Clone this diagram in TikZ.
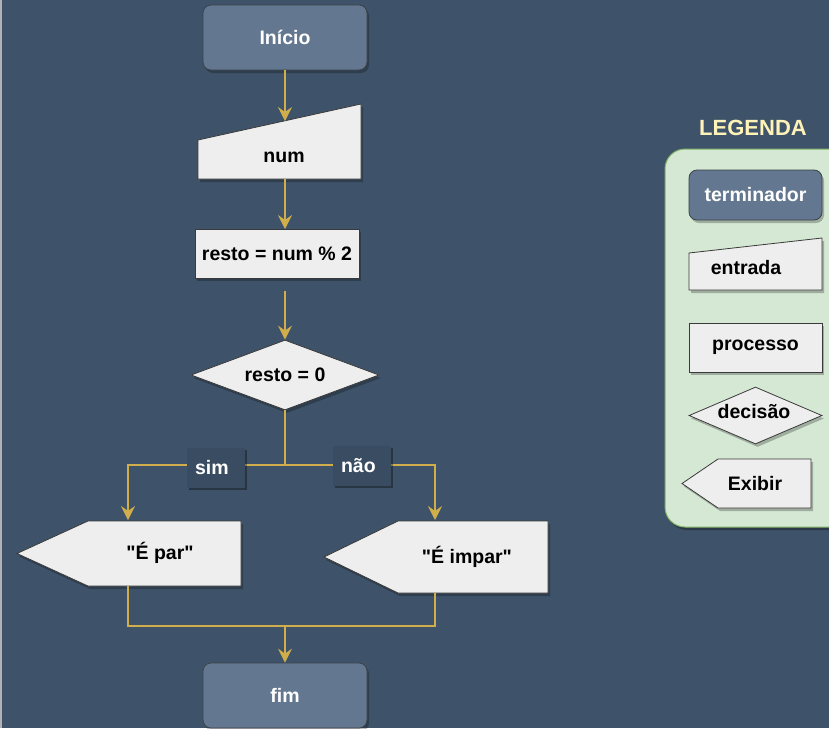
\documentclass[tikz,border=0pt]{standalone}
\usepackage{fontspec}
\setmainfont{Liberation Sans}
\usetikzlibrary{arrows.meta,shapes.geometric,shadows}
\definecolor{bg}{HTML}{3E5369}
\definecolor{termfill}{HTML}{637890}
\definecolor{shapefill}{HTML}{EEEEEE}
\definecolor{shapeedge}{HTML}{3A3A3A}
\definecolor{gold}{HTML}{D1AE4C}
\definecolor{lgfill}{HTML}{D5E8D4}
\definecolor{lgedge}{HTML}{82B366}
\definecolor{legtitle}{HTML}{FFF2B8}
\begin{document}
\begin{tikzpicture}[x=1pt,y=-1pt,
  font=\bfseries\fontsize{19.5}{22}\selectfont,
  shd/.style={drop shadow={shadow xshift=2pt,shadow yshift=-3pt,opacity=0.25,fill=black}},
  termbox/.style={rectangle,rounded corners=8pt,fill=termfill,draw=shapeedge!70!bg,line width=0.8pt,text=white,shd,inner sep=0pt},
  procbox/.style={rectangle,fill=shapefill,draw=shapeedge,line width=0.8pt,text=black,shd,inner sep=0pt},
  shapepath/.style={fill=shapefill,draw=shapeedge,line width=0.8pt,shd},
  decbox/.style={diamond,fill=shapefill,draw=shapeedge,line width=0.8pt,text=black,shd,inner sep=0pt},
  txt/.style={text=black,inner sep=0pt},
  lbl/.style={rectangle,fill=bg!92!black,text=white,text width=42pt,align=left,inner xsep=8pt,
     minimum height=40pt,inner ysep=0pt,
     drop shadow={shadow xshift=2pt,shadow yshift=-2pt,opacity=0.35,fill=black}},
  conn/.style={draw=gold,line width=1.1pt},
  arr/.style={conn,-{Stealth[length=14pt,width=14pt,inset=5pt,fill=gold]}}
]
\useasboundingbox (0,0) rectangle (829,728);
\clip (0,0) rectangle (829,728);
\fill[bg] (0,0) rectangle (829,728);
\draw[gray!60,line width=1.5pt] (0.75,0) -- (0.75,728);

% ---- main flow ----
\node[termbox,minimum width=164pt,minimum height=65pt] (ini) at (285,37.5) {Início};

\draw[shapepath] (198,140) -- (361,104) -- (361,179) -- (198,179) -- cycle;
\node[txt] (num) at (284,157) {num};
\coordinate (numtop) at (285,121);
\coordinate (numbot) at (285,179);

\node[procbox,minimum width=164pt,minimum height=49pt] (resto) at (277,253.5) {resto = num \% 2};
\coordinate (restotop) at (285,229);
\coordinate (gapstart) at (285,291);

\node[decbox,aspect=2.7,minimum width=188pt,minimum height=70pt] (dec) at (285,375) {resto = 0};

\coordinate (split) at (285,465);
\coordinate (partop) at (128,520);
\coordinate (impartop) at (435,520);

\draw[shapepath] (17,553.5) -- (88,521) -- (241,521) -- (241,586) -- (88,586) -- cycle;
\node[txt] (par) at (160,553) {\textquotedbl É par\textquotedbl};
\draw[shapepath] (324,557) -- (398,521) -- (548,521) -- (548,593) -- (398,593) -- cycle;
\node[txt] (impar) at (467,557) {\textquotedbl É impar\textquotedbl};
\coordinate (parbot) at (128,586);
\coordinate (imparbot) at (435,593);
\coordinate (join) at (285,626);

\node[termbox,minimum width=164pt,minimum height=65pt] (fim) at (285,695.5) {fim};

% connectors
\draw[arr] (ini.south) -- (numtop);
\draw[arr] (numbot) -- (restotop);
\draw[arr] (gapstart) -- (dec.north);
\draw[conn] (dec.south) -- (split);
\draw[arr] (split) -| (partop);
\draw[arr] (split) -| (impartop);
\draw[conn] (parbot) |- (join);
\draw[conn] (imparbot) |- (join);
\draw[arr] (join) -- (fim.north);

\node[lbl] (sim) at (216,468) {sim};
\node[lbl] (nao) at (362,466) {não};

% ---- legend ----
\node[text=legtitle,inner sep=0pt,font=\bfseries\fontsize{22}{24}\selectfont] (legtit) at (753,128) {LEGENDA};
\draw[fill=lgfill,draw=lgedge,line width=1pt,rounded corners=20pt,
  drop shadow={shadow xshift=2pt,shadow yshift=-3pt,opacity=0.3,fill=black}] (665,149) rectangle (850,527);

\node[termbox,minimum width=133pt,minimum height=50pt] (lterm) at (755.5,195) {terminador};

\draw[shapepath] (689,253) -- (822,238) -- (822,290) -- (689,290) -- cycle;
\node[txt] (lent) at (746,268) {entrada};

\node[procbox,minimum width=133pt,minimum height=49pt] (lproc) at (755.5,347.5) {processo};

\node[decbox,aspect=2.3,minimum width=133pt,minimum height=57pt] (ldec) at (755.5,415.5) {};
\node[txt] (ldect) at (754,412) {decisão};

\draw[shapepath] (682,483.5) -- (718,459) -- (811,459) -- (811,508) -- (718,508) -- cycle;
\node[txt] (lexib) at (755,484) {Exibir};
\end{tikzpicture}
\end{document}
